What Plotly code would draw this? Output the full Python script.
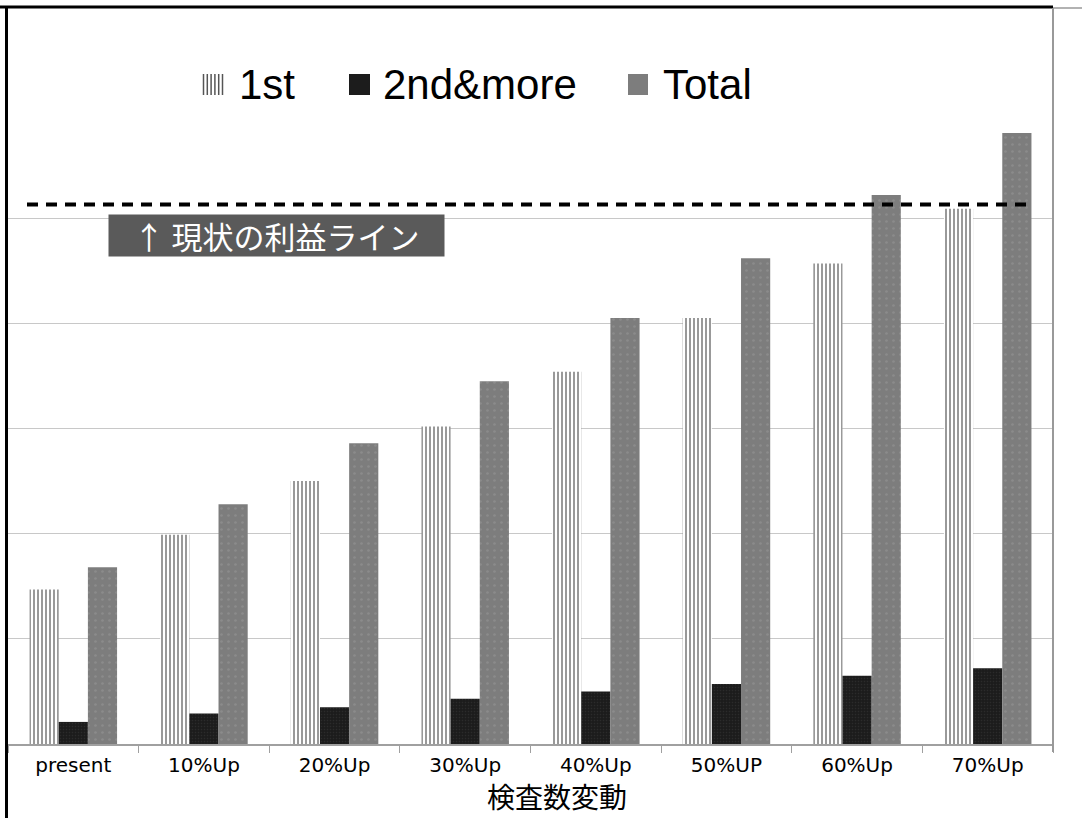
import plotly.graph_objects as go

categories = ["present", "10%Up", "20%Up", "30%Up", "40%Up", "50%UP", "60%Up", "70%Up"]
first = [1.47, 1.99, 2.50, 3.02, 3.54, 4.05, 4.57, 5.09]
second = [0.21, 0.29, 0.35, 0.43, 0.50, 0.57, 0.65, 0.72]
total = [1.68, 2.28, 2.86, 3.45, 4.05, 4.62, 5.22, 5.81]
profit_line = 5.13
series_names = ["1st", "2nd&more", "Total"]
axis_title = "検査数変動"
profit_label = "↑ 現状の利益ライン"

W, H = 1082, 818
L, R, T, B = 8, 29, 113, 74
pw = W - L - R
ph = H - T - B


def px(x):
    return (x - L) / pw


def py(y):
    return (H - B - y) / ph


fig = go.Figure()
fig.add_trace(go.Bar(
    x=categories, y=first, name=series_names[0], showlegend=False,
    marker=dict(color="white", line=dict(width=0),
                pattern=dict(shape="|", fgcolor="#333333", size=4, solidity=0.5)),
))
fig.add_trace(go.Bar(
    x=categories, y=second, name=series_names[1], showlegend=False,
    marker=dict(color="#1c1c1c", line=dict(width=0),
                pattern=dict(shape=".", fgcolor="#3a3a3a", size=3, solidity=0.2)),
))
fig.add_trace(go.Bar(
    x=categories, y=total, name=series_names[2], showlegend=False,
    marker=dict(color="#7d7d7d", line=dict(width=0),
                pattern=dict(shape=".", fgcolor="#9a9a9a", size=7, solidity=0.12)),
))

shapes = [
    # profit line
    dict(type="line", xref="paper", yref="y", x0=px(27), x1=px(1028),
         y0=profit_line, y1=profit_line,
         line=dict(color="black", width=4, dash="11px,8px")),
    # frame
    dict(type="line", xref="paper", yref="paper", x0=px(0), x1=px(1053),
         y0=py(7), y1=py(7), line=dict(color="black", width=3)),
    dict(type="line", xref="paper", yref="paper", x0=px(1053), x1=px(1082),
         y0=py(8), y1=py(8), line=dict(color="#999999", width=1.5)),
    dict(type="line", xref="paper", yref="paper", x0=px(6.5), x1=px(6.5),
         y0=py(6), y1=py(818), line=dict(color="black", width=3)),
    dict(type="line", xref="paper", yref="paper", x0=px(1053), x1=px(1053),
         y0=py(8), y1=py(752), line=dict(color="#999999", width=2)),
]

# custom legend keys
sq_y0, sq_y1 = 74, 95
shapes.append(dict(type="rect", xref="paper", yref="paper", x0=px(203), x1=px(223),
                   y0=py(sq_y1), y1=py(sq_y0), fillcolor="white", line=dict(width=0)))
for k in range(6):
    xx = 203.5 + k * 3.8
    shapes.append(dict(type="line", xref="paper", yref="paper", x0=px(xx), x1=px(xx),
                       y0=py(sq_y1), y1=py(sq_y0), line=dict(color="#555555", width=1.5)))
shapes.append(dict(type="rect", xref="paper", yref="paper", x0=px(349), x1=px(370),
                   y0=py(sq_y1), y1=py(sq_y0), fillcolor="#1c1c1c", line=dict(width=0)))
shapes.append(dict(type="rect", xref="paper", yref="paper", x0=px(628), x1=px(648),
                   y0=py(sq_y1), y1=py(sq_y0), fillcolor="#7d7d7d", line=dict(width=0)))

legend_x = [237, 381, 661]
annotations = [
    dict(text=name, xref="paper", yref="paper", x=px(lx), y=py(85),
         xanchor="left", yanchor="middle", showarrow=False,
         font=dict(family="Liberation Sans", size=42, color="black"))
    for name, lx in zip(series_names, legend_x)
]
annotations += [
    dict(text=profit_label, xref="paper", yref="paper", x=px(276), y=py(235.5),
         xanchor="center", yanchor="middle", showarrow=False,
         font=dict(family="Noto Sans CJK JP", size=31, color="white"),
         bgcolor="#5a5a5a", width=331, height=37, borderpad=2),
    dict(text=axis_title, xref="paper", yref="paper", x=px(557), y=py(818),
         xanchor="center", yanchor="bottom", showarrow=False,
         font=dict(family="Noto Sans CJK JP", size=28, color="black")),
]

fig.update_layout(
    width=W, height=H,
    margin=dict(l=L, r=R, t=T, b=B, pad=0),
    paper_bgcolor="white", plot_bgcolor="white",
    barmode="group", bargap=0.33, bargroupgap=0,
    shapes=shapes, annotations=annotations,
    showlegend=False,
    xaxis=dict(showgrid=False, ticks="outside", tickson="boundaries", ticklen=7,
               tickcolor="#a0a0a0", showline=True, linecolor="#a0a0a0", linewidth=1.5,
               tickfont=dict(family="DejaVu Sans", size=20, color="black"),
               ticklabelstandoff=2, fixedrange=True),
    yaxis=dict(range=[0, 6], dtick=1, showgrid=True, gridcolor="#c8c8c8", gridwidth=1,
               showticklabels=False, zeroline=False, showline=False, fixedrange=True),
)

fig.write_html("out.html")
